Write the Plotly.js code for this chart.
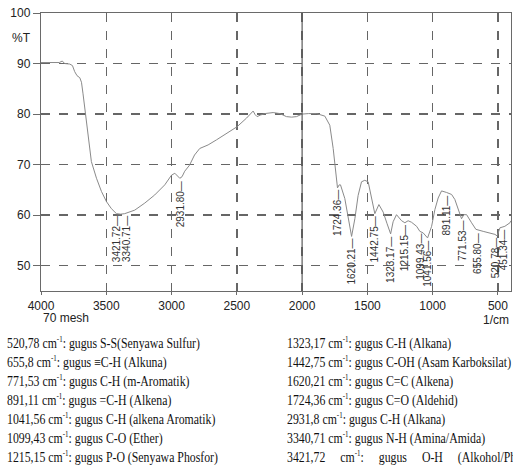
<!DOCTYPE html>
<html>
<head>
<meta charset="utf-8">
<script src="https://cdn.plot.ly/plotly-3.0.1.min.js"></script>
<style>
  html, body { margin:0; padding:0; background:#fff; overflow:hidden; }
  #wrap { position:relative; width:513px; height:468px; overflow:hidden; }
  #chart { position:absolute; left:0; top:0; width:513px; height:468px; }
  .note { position:absolute; font-family:"Liberation Serif","Times New Roman",serif; font-size:11.8px; line-height:14px;
          color:#111; white-space:nowrap; transform:scaleY(1.22); transform-origin:50% 50%; }
  .note sup { font-size:7px; vertical-align:5px; line-height:0; }
  .note.wide { word-spacing:12px; }
</style>
</head>
<body>
<div id="wrap">
  <div id="chart"></div>
</div>
<script>
// ---- spectrum (wavenumber in 1/cm, transmittance in %T) ----
const wavenumber = [4000, 3900, 3860, 3837, 3818, 3780, 3759, 3742, 3724, 3703, 3690, 3678, 3665, 3652, 3640, 3628, 3614,
  3575, 3537, 3499, 3461, 3422, 3390, 3359, 3320, 3282, 3205, 3129, 3052, 3001, 2975, 2955, 2937, 2920, 2899, 2862, 2824,
  2784, 2720, 2656, 2579, 2498, 2426, 2375, 2360, 2345, 2320, 2286, 2222, 2170, 2120, 2080, 2043, 2000, 1950, 1890, 1826,
  1788, 1762, 1742, 1729, 1716, 1706, 1673, 1640, 1621, 1596, 1571, 1545, 1520, 1494, 1468, 1443, 1412, 1379, 1349, 1322,
  1303, 1277, 1238, 1213, 1188, 1162, 1123, 1098, 1073, 1039, 1008, 983, 958, 932, 894, 855, 830, 805, 779, 761, 740, 702,
  669, 613, 562, 523, 506, 485, 447, 408, 400];
const transmittance = [90.2, 90.1, 90.2, 90.5, 90.0, 89.9, 89.6, 88.4, 87.6, 87.2, 86.3, 84.0, 81.3, 78.3, 75.0, 72.5, 70.6,
  67.3, 64.7, 62.7, 61.3, 60.3, 60.2, 60.3, 60.6, 61.0, 62.4, 64.0, 66.0, 67.9, 68.3, 67.8, 67.3, 67.6, 68.7, 69.9, 71.9,
  73.2, 73.9, 74.9, 76.2, 77.5, 79.2, 80.6, 79.9, 79.5, 79.8, 80.1, 80.3, 80.1, 79.5, 79.4, 79.5, 80.0, 80.1, 80.1, 79.6,
  77.8, 73.2, 67.9, 65.4, 66.0, 66.0, 63.3, 58.7, 55.8, 59.3, 63.9, 66.6, 66.9, 66.6, 63.3, 60.3, 62.1, 60.6, 58.3, 56.3,
  58.7, 60.1, 58.9, 58.5, 58.9, 58.6, 57.8, 56.8, 56.5, 55.5, 57.8, 61.1, 63.4, 64.8, 64.5, 64.1, 63.1, 61.1, 59.3, 60.1, 60.1, 58.5,
  57.2, 56.8, 56.5, 56.2, 55.9, 57.5, 57.8, 58.5, 58.9];

// ---- labelled peaks ----
const peakWavenumbers = [3421.72, 3340.71, 2931.80, 1724.36, 1620.21, 1442.75, 1323.17, 1215.15, 1099.43, 1041.56,
  891.11, 771.53, 655.80, 520.78, 451.34];

// ---- axis ticks ----
const xTicks = [4000, 3500, 3000, 2500, 2000, 1500, 1000, 500];
const yTicks = [50, 60, 70, 80, 90, 100];
const xSolidLine = 2000;

// ---- band assignments printed under the chart ----
const notesLeft = [
  "520,78 cm<sup>-1</sup>: gugus S-S(Senyawa Sulfur)",
  "655,8 cm<sup>-1</sup>: gugus \u2261C-H (Alkuna)",
  "771,53 cm<sup>-1</sup>: gugus C-H (m-Aromatik)",
  "891,11 cm<sup>-1</sup>: gugus =C-H (Alkena)",
  "1041,56 cm<sup>-1</sup>: gugus C-H (alkena Aromatik)",
  "1099,43 cm<sup>-1</sup>: gugus C-O (Ether)",
  "1215,15 cm<sup>-1</sup>: gugus P-O (Senyawa Phosfor)"
];
const notesRight = [
  "1323,17 cm<sup>-1</sup>: gugus C-H (Alkana)",
  "1442,75 cm<sup>-1</sup>: gugus C-OH (Asam Karboksilat)",
  "1620,21 cm<sup>-1</sup>: gugus C=C (Alkena)",
  "1724,36 cm<sup>-1</sup>: gugus C=O (Aldehid)",
  "2931,8 cm<sup>-1</sup>: gugus C-H (Alkana)",
  "3340,71 cm<sup>-1</sup>: gugus N-H (Amina/Amida)",
  "3421,72 cm<sup>-1</sup>: gugus O-H (Alkohol/Phenol)"
];

// interpolate the traced curve to hang each peak label just under it
function curveAt(w) {
  for (let i = 0; i < wavenumber.length - 1; i++) {
    const a = wavenumber[i], b = wavenumber[i + 1];
    if (w <= a && w >= b) {
      const t = (a - w) / (a - b);
      return transmittance[i] + t * (transmittance[i + 1] - transmittance[i]);
    }
  }
  return transmittance[transmittance.length - 1];
}

const labelFont = { family: 'Liberation Sans, Arial, sans-serif', size: 10, color: '#333' };
const axisFont = { family: 'Liberation Sans, Arial, sans-serif', size: 12, color: '#222' };

const peakAnnotations = peakWavenumbers.map(w => ({
  x: w, y: curveAt(w), xref: 'x', yref: 'y',
  text: w.toFixed(2) + '\u2014', showarrow: false, textangle: -90,
  xanchor: 'center', yanchor: 'top', yshift: -1, font: labelFont
}));

const traces = [
  { x: wavenumber, y: transmittance, type: 'scatter', mode: 'lines',
    line: { color: '#8a8a8a', width: 1 }, hoverinfo: 'skip' }
];

const axisCommon = {
  showline: true, mirror: true, linecolor: '#6a6a6a', linewidth: 1.2,
  showgrid: true, gridcolor: '#666666', gridwidth: 1.5, griddash: 'dash',
  zeroline: false, ticks: 'outside', tickcolor: '#6a6a6a', tickwidth: 1,
  tickfont: axisFont
};

const layout = {
  width: 513, height: 468,
  margin: { l: 41, r: 2, t: 13, b: 177 },
  paper_bgcolor: '#ffffff', plot_bgcolor: '#ffffff',
  showlegend: false,
  xaxis: Object.assign({}, axisCommon, {
    range: [4000, 400], autorange: false, tickmode: 'array', tickvals: xTicks,
    ticktext: xTicks.map(String), ticklen: 3
  }),
  yaxis: Object.assign({}, axisCommon, {
    range: [45, 100], autorange: false, tickmode: 'array', tickvals: yTicks,
    ticktext: yTicks.map(String), ticklen: 7
  }),
  shapes: [{
    type: 'line', xref: 'x', yref: 'paper', x0: xSolidLine, x1: xSolidLine, y0: 0, y1: 1,
    line: { color: '#5a5a5a', width: 1.2 }, layer: 'above'
  }],
  annotations: peakAnnotations.concat([
    { xref: 'paper', yref: 'y', x: -0.018, y: 95, xanchor: 'right', yanchor: 'middle', showarrow: false,
      text: '%T', font: axisFont },
    { xref: 'paper', yref: 'paper', x: 0.0, y: -0.097, xanchor: 'left', yanchor: 'middle', showarrow: false,
      text: '70 mesh', font: axisFont },
    { xref: 'paper', yref: 'paper', x: 1.0, y: -0.105, xanchor: 'right', yanchor: 'middle', showarrow: false,
      text: '1/cm', font: axisFont }
  ])
};

Plotly.newPlot('chart', traces, layout, { displayModeBar: false, staticPlot: true });

// notes below the chart
const wrap = document.getElementById('wrap');
function addNotes(lines, left) {
  lines.forEach((t, i) => {
    const d = document.createElement('div');
    d.className = 'note' + (left > 100 && i === lines.length - 1 ? ' wide' : '');
    d.style.left = left + 'px';
    d.style.top = (336 + i * 19) + 'px';
    d.innerHTML = t;
    wrap.appendChild(d);
  });
}
addNotes(notesLeft, 7);
addNotes(notesRight, 287);
</script>
</body>
</html>
